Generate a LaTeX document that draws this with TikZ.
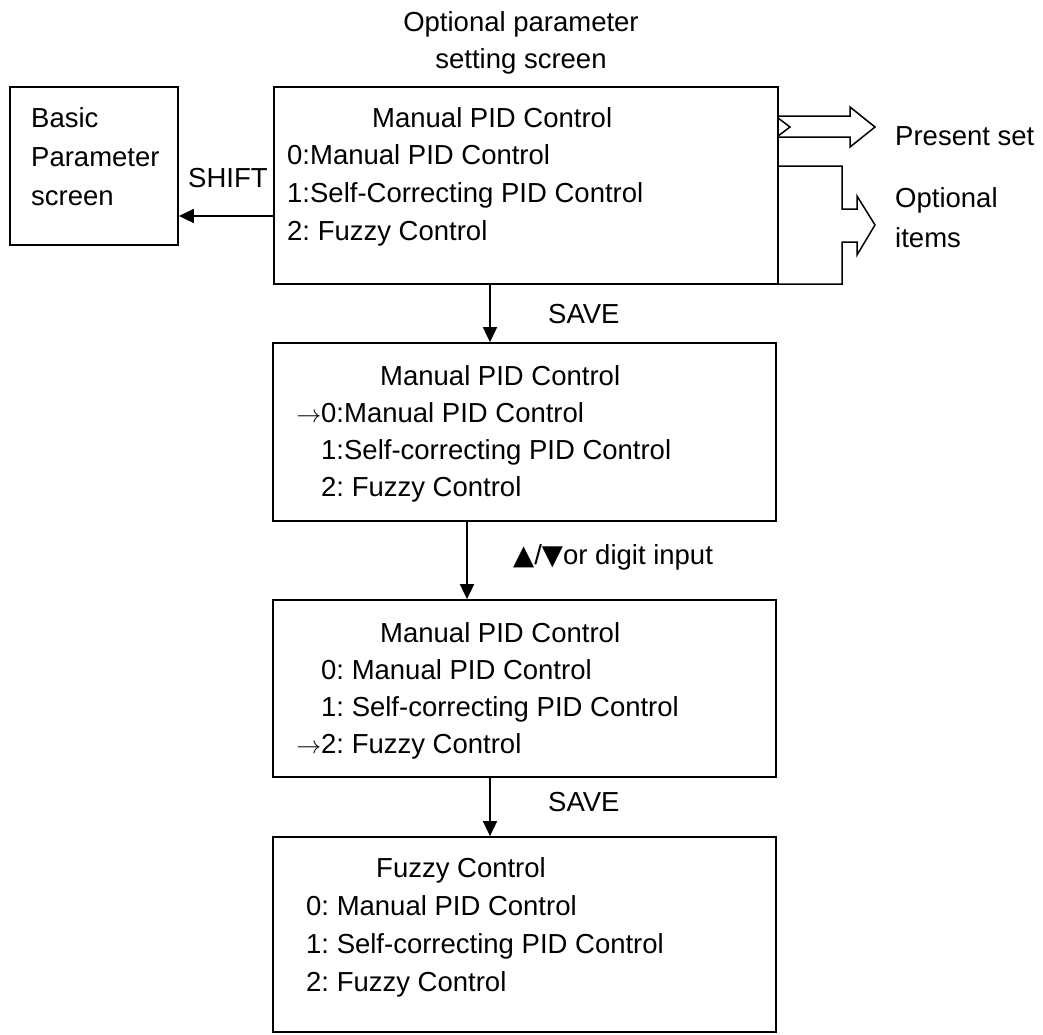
\documentclass[tikz,border=0pt]{standalone}
\usepackage{fontspec}
\setmainfont{Liberation Sans}
\newfontfamily\dvfont{DejaVu Sans}
\usetikzlibrary{arrows.meta,calc}
\frenchspacing
\begin{document}
\begin{tikzpicture}[x=1pt,y=-1pt,
  box/.style={draw,line width=1.8pt,inner sep=0pt},
  txt/.style={anchor=base west,inner sep=0pt,font=\fontsize{27.5}{32}\selectfont},
  ctxt/.style={anchor=base,inner sep=0pt,font=\fontsize{27.5}{32}\selectfont},
  arr/.style={line width=1.8pt,-{Triangle[length=15pt,width=14pt]}},
  hol/.style={line width=1.5pt,line join=miter}]
\useasboundingbox (0,0) rectangle (1043,1034);
% boxes
\node[box,minimum width=168pt,minimum height=158pt] (basic) at (94,166) {};
\node[box,minimum width=504pt,minimum height=197pt] (main) at (526,185.5) {};
\node[box,minimum width=503pt,minimum height=178pt] (b2) at (524.5,432) {};
\node[box,minimum width=503pt,minimum height=177pt] (b3) at (524.5,688.5) {};
\node[box,minimum width=503pt,minimum height=195pt] (b4) at (524.5,934.5) {};
% title
\node[ctxt] (tt1) at (521,31) {Optional parameter};
\node[ctxt] (tt2) at (521,68) {setting screen};
% basic box text
\node[txt] (ba1) at (31,127) {Basic};
\node[txt] (ba2) at (31,166) {Parameter};
\node[txt] (ba3) at (31,205) {screen};
\node[txt] (shift) at (188,187) {SHIFT};
% main box text
\node[txt] (m0) at (372,127) {Manual PID Control};
\node[txt] (m1) at (287,164) {0:Manual PID Control};
\node[txt] (m2) at (287,202) {1:Self-Correcting PID Control};
\node[txt] (m3) at (287,240) {2: Fuzzy Control};
% box 2
\node[txt] (p0) at (380,385) {Manual PID Control};
\node[txt] (p1) at (321,422) {\llap{$\rightarrow$}0:Manual PID Control};
\node[txt] (p2) at (321,459) {1:Self-correcting PID Control};
\node[txt] (p3) at (321,496) {2: Fuzzy Control};
% box 3
\node[txt] (q0) at (380,642) {Manual PID Control};
\node[txt] (q1) at (321,679) {0: Manual PID Control};
\node[txt] (q2) at (321,716) {1: Self-correcting PID Control};
\node[txt] (q3) at (321,753) {\llap{$\rightarrow$}2: Fuzzy Control};
% box 4
\node[txt] (r0) at (376,877) {Fuzzy Control};
\node[txt] (r1) at (306,915) {0: Manual PID Control};
\node[txt] (r2) at (306,953) {1: Self-correcting PID Control};
\node[txt] (r3) at (306,991) {2: Fuzzy Control};
% labels
\node[txt] (sv1) at (548,323) {SAVE};
\node[txt] (dig) at (513,564) {{\dvfont ▲}/{\dvfont ▼}or digit input};
\node[txt] (sv2) at (548,811) {SAVE};
\node[txt] (ps) at (895,145) {Present set};
\node[txt] (oi1) at (895,207) {Optional};
\node[txt] (oi2) at (895,247) {items};
% connectors
\coordinate (c1) at (490,0);
\coordinate (c2) at (467,0);
\coordinate (cs) at (0,216);
\draw[arr] (c1 |- main.south) -- (c1 |- b2.north);
\draw[arr] (c2 |- b2.south) -- (c2 |- b3.north);
\draw[arr] (c1 |- b3.south) -- (c1 |- b4.north);
\draw[arr] (cs -| main.west) -- (cs -| basic.east);
% hollow arrows
\draw[hol] (778,116) -- (850,116) -- (850,107) -- (875,127) -- (850,147) -- (850,137) -- (778,137);
\draw[hol] (778,118) -- (790,127) -- (778,136);
\draw[hol] (778,166) -- (842,166) -- (842,209) -- (857,209) -- (857,196) -- (875,225) -- (857,255) -- (857,242) -- (842,242) -- (842,284) -- (778,284);
\end{tikzpicture}
\end{document}
